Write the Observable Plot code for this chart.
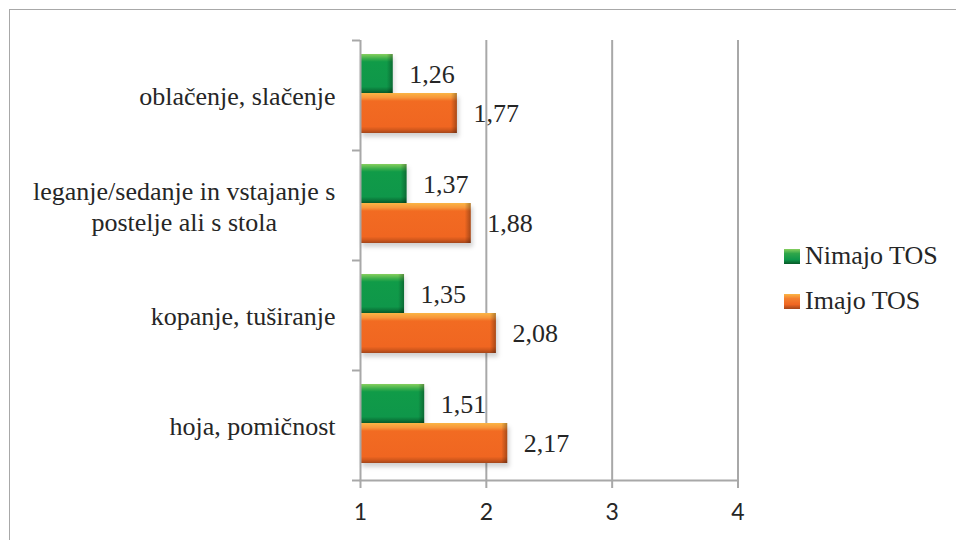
<!DOCTYPE html>
<html><head><meta charset="utf-8">
<script src="https://cdn.jsdelivr.net/npm/d3@7"></script>
<script src="https://cdn.jsdelivr.net/npm/@observablehq/plot@0.6"></script>
<style>
body{margin:0;background:#fff;}
#wrap{position:relative;width:956px;height:540px;overflow:hidden;background:#fff;}
#border{position:absolute;left:9px;top:9px;width:1200px;height:1200px;border-left:1.5px solid #a8a8a8;border-top:1.5px solid #a8a8a8;}
#chart{position:absolute;left:0;top:0;}
.leg{position:absolute;left:784px;height:30px;font:26px "Liberation Serif","Times New Roman",serif;color:#262626;display:flex;align-items:center;white-space:nowrap;}
.sw{width:16px;height:15px;margin-right:5px;box-sizing:border-box;}
</style>
</head><body>
<svg width="0" height="0" style="position:absolute">
 <defs>
  <linearGradient id="gGreen" x1="0" y1="0" x2="0" y2="1">
   <stop offset="0" stop-color="#86cf5e"/>
   <stop offset="0.12" stop-color="#3aae4b"/>
   <stop offset="0.2" stop-color="#109b48"/>
   <stop offset="0.84" stop-color="#0f974a"/>
   <stop offset="0.92" stop-color="#0b7a3b"/>
   <stop offset="1" stop-color="#075827"/>
  </linearGradient>
  <linearGradient id="gOrange" x1="0" y1="0" x2="0" y2="1">
   <stop offset="0" stop-color="#fbb545"/>
   <stop offset="0.12" stop-color="#f7953a"/>
   <stop offset="0.2" stop-color="#f26b22"/>
   <stop offset="0.84" stop-color="#f06621"/>
   <stop offset="0.92" stop-color="#d2581c"/>
   <stop offset="1" stop-color="#a4461a"/>
  </linearGradient>
  <linearGradient id="gEdge" x1="0" y1="0" x2="1" y2="0">
   <stop offset="0" stop-color="#000" stop-opacity="0"/>
   <stop offset="1" stop-color="#000" stop-opacity="0.3"/>
  </linearGradient>
 </defs>
</svg>
<div id="wrap"><div id="border"></div><div id="chart"></div></div>
<script>
const categories = ["oblačenje, slačenje", "leganje/sedanje in vstajanje s\npostelje ali s stola", "kopanje, tuširanje", "hoja, pomičnost"];
const nimajo = [1.26, 1.37, 1.35, 1.51];
const imajo = [1.77, 1.88, 2.08, 2.17];
const seriesNames = ["Nimajo TOS", "Imajo TOS"];
const xTicks = [1, 2, 3, 4];

const serif = "'Liberation Serif', 'Times New Roman', serif";
const textColor = "#262626";
const gridColor = "#a8a8a8";

const green = categories.map((c, i) => ({category: c, value: nimajo[i], series: seriesNames[0]}));
const orange = categories.map((c, i) => ({category: c, value: imajo[i], series: seriesNames[1]}));
const fmt = v => v.toFixed(2).replace(".", ",");
const x0 = xTicks[0];

const greenInset = {insetTop: 14, insetBottom: 57};
const orangeInset = {insetTop: 53, insetBottom: 17};

const plot = Plot.plot({
  width: 956, height: 540,
  marginLeft: 360, marginRight: 218.5, marginTop: 40, marginBottom: 60,
  style: {fontFamily: serif, background: "transparent", overflow: "visible"},
  x: {domain: [xTicks[0], xTicks[xTicks.length - 1]], axis: null},
  y: {domain: categories, padding: 0, axis: null},
  marks: [
    Plot.ruleX(xTicks.slice(1), {stroke: gridColor, strokeWidth: 2}),
    // shadows
    Plot.barX(green, {x1: x0, x2: "value", y: "category", ...greenInset, dy: 3, dx: 2, fill: "#000", fillOpacity: 0.12, imageFilter: "blur(2px)"}),
    Plot.barX(orange, {x1: x0, x2: "value", y: "category", ...orangeInset, dy: 4, dx: 2, fill: "#000", fillOpacity: 0.18, imageFilter: "blur(2px)"}),
    // bars
    Plot.barX(green, {x1: x0, x2: "value", y: "category", ...greenInset, fill: "url(#gGreen)"}),
    Plot.barX(orange, {x1: x0, x2: "value", y: "category", ...orangeInset, fill: "url(#gOrange)"}),
    // right-end bevel
    Plot.barX(green, {x1: "value", x2: "value", y: "category", ...greenInset, insetLeft: -6, fill: "url(#gEdge)"}),
    Plot.barX(orange, {x1: "value", x2: "value", y: "category", ...orangeInset, insetLeft: -6, fill: "url(#gEdge)"}),
    // axis lines
    Plot.ruleX([x0], {stroke: gridColor, strokeWidth: 2}),
    Plot.frame({anchor: "bottom", stroke: gridColor, strokeWidth: 2}),
    Plot.axisX({ticks: xTicks, tickSize: 8, tickPadding: 15, stroke: gridColor, strokeWidth: 2, strokeOpacity: 1, label: null,
      fill: textColor, fontSize: 23, fontFamily: "Lato", tickFormat: d => String(d)}),
    Plot.axisY({tickSize: 8, tickFormat: () => "", label: null, dy: -55, stroke: gridColor, strokeWidth: 2, strokeOpacity: 1}),
    Plot.axisY({ticks: categories.slice(-1), tickSize: 8, tickFormat: () => "", label: null, dy: 55, stroke: gridColor, strokeWidth: 2, strokeOpacity: 1}),
    // category labels
    Plot.text(categories, {y: d => d, text: d => d, frameAnchor: "left", textAnchor: "end", dx: -25, fontSize: 26, lineHeight: 1.2, fill: textColor, fontFamily: serif}),
    // value labels
    Plot.text(green, {x: "value", y: "category", text: d => fmt(d.value), textAnchor: "start", dx: 16, dy: -21, fontSize: 26, fill: textColor, fontFamily: serif}),
    Plot.text(orange, {x: "value", y: "category", text: d => fmt(d.value), textAnchor: "start", dx: 16, dy: 18, fontSize: 26, fill: textColor, fontFamily: serif})
  ]
});
document.getElementById("chart").appendChild(plot);

// center the lines of multi-line category labels (block stays right-aligned)
d3.select(plot).selectAll("text").each(function() {
  const tspans = Array.from(this.querySelectorAll("tspan"));
  if (tspans.length > 1) {
    const maxW = d3.max(tspans, t => t.getComputedTextLength());
    this.setAttribute("text-anchor", "middle");
    tspans.forEach(t => t.setAttribute("x", -maxW / 2));
  }
});

// legend
const wrap = document.getElementById("wrap");
const swatches = [
  "linear-gradient(to bottom, #86cf5e 0%, #2fa64a 30%, #0f974a 70%, #075827 100%)",
  "linear-gradient(to bottom, #fbb545 0%, #f48030 30%, #f06621 70%, #a4461a 100%)"
];
seriesNames.forEach((name, i) => {
  const div = document.createElement("div");
  div.className = "leg";
  div.style.top = (241 + i * 45) + "px";
  div.innerHTML = `<div class="sw" style="background:${swatches[i]}"></div><span>${name}</span>`;
  wrap.appendChild(div);
});
</script>
</body></html>
